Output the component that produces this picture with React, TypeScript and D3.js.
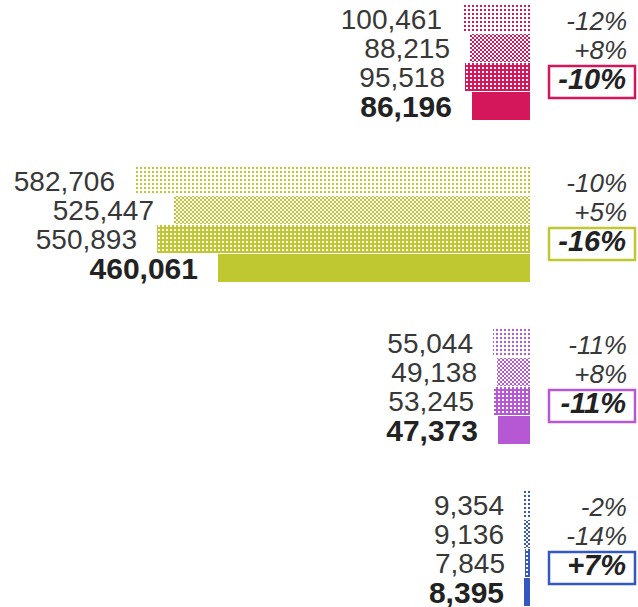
import React from 'react';
import * as d3 from 'd3';

// one row per year, last row is the current one (solid)
const rowKeys = ['y1', 'y2', 'y3', 'y4'];
const groupKeys = ['pink', 'green', 'purple', 'blue'];
const groupColors = ['#d4175a', '#bfc830', '#b657d4', '#3558c0'];

const pinkValues = [100461, 88215, 95518, 86196];
const greenValues = [582706, 525447, 550893, 460061];
const purpleValues = [55044, 49138, 53245, 47373];
const blueValues = [9354, 9136, 7845, 8395];

const pinkChanges = ['-12%', '+8%', '-10%'];
const greenChanges = ['-10%', '+5%', '-16%'];
const purpleChanges = ['-11%', '+8%', '-11%'];
const blueChanges = ['-2%', '-14%', '+7%'];

const groupValues = [pinkValues, greenValues, purpleValues, blueValues];
const groupChanges = [pinkChanges, greenChanges, purpleChanges, blueChanges];

const width = 638;
const height = 607;
const barRight = 530;
const font = '"Liberation Sans", Arial, sans-serif';

const App = () => {
  const maxVal = d3.max(groupValues.flat()) as number;
  const x = d3.scaleLinear().domain([0, maxVal]).range([0, 395]);
  const groupY = d3.scalePoint<string>().domain(groupKeys).range([4, 492]).round(true);
  const rowY = d3.scaleBand<string>().domain(rowKeys).range([0, 116]).paddingInner(0.03).round(true);

  const patternFor = (gi: number, ri: number) =>
    ri === 3 ? groupColors[gi] : `url(#p${ri}-${gi})`;

  return (
    <svg width={width} height={height} style={{ position: 'absolute', left: 0, top: 0 }}>
      <defs>
        {groupColors.map((c, gi) => (
          <React.Fragment key={gi}>
            <pattern id={`p0-${gi}`} width={4} height={4} patternUnits="userSpaceOnUse">
              <rect x={0} y={0} width={2} height={2} fill={c} />
            </pattern>
            <pattern id={`p1-${gi}`} width={4} height={4} patternUnits="userSpaceOnUse">
              <rect x={0} y={0} width={2} height={2} fill={c} />
              <rect x={2} y={2} width={2} height={2} fill={c} />
            </pattern>
            <pattern id={`p2-${gi}`} width={4} height={4} patternUnits="userSpaceOnUse">
              <rect x={0} y={0} width={4} height={4} fill={c} />
              <rect x={2} y={2} width={2} height={2} fill="#fff" />
            </pattern>
          </React.Fragment>
        ))}
      </defs>
      {groupKeys.map((g, gi) => {
        const top = groupY(g) as number;
        const vals = groupValues[gi];
        const changes = groupChanges[gi];
        return (
          <g key={g} transform={`translate(0,${top})`}>
            {rowKeys.map((r, ri) => {
              const y0 = rowY(r) as number;
              const bw = rowY.bandwidth();
              const cy = y0 + bw / 2;
              const w = Math.round(x(vals[ri]));
              const last = ri === 3;
              return (
                <g key={r}>
                  <rect x={barRight - w} y={y0} width={w} height={bw} fill={patternFor(gi, ri)} />
                  <text
                    x={barRight - w - 20}
                    y={cy + (last ? 11 : 10)}
                    textAnchor="end"
                    fontFamily={font}
                    fontSize={last ? 30 : 28}
                    fontWeight={last ? 'bold' : 'normal'}
                    fill={last ? '#222' : '#383838'}
                  >
                    {d3.format(',')(vals[ri])}
                  </text>
                </g>
              );
            })}
            {changes.map((c, ci) => {
              const y0 = rowY(rowKeys[ci]) as number;
              const cy = y0 + rowY.bandwidth() / 2;
              const boxed = ci === 2;
              return (
                <g key={ci}>
                  {boxed && (
                    <rect x={549} y={y0 + 3} width={86} height={32} fill="none"
                      stroke={groupColors[gi]} strokeWidth={2.5} />
                  )}
                  <text
                    x={boxed ? 626 : 627}
                    y={cy + (boxed ? 12 : 10.5)}
                    textAnchor="end"
                    fontFamily={font}
                    fontStyle="italic"
                    fontSize={boxed ? 29 : 26}
                    fontWeight={boxed ? 'bold' : 'normal'}
                    fill={boxed ? '#222' : '#383838'}
                  >
                    {c}
                  </text>
                </g>
              );
            })}
          </g>
        );
      })}
    </svg>
  );
};

export default App;
